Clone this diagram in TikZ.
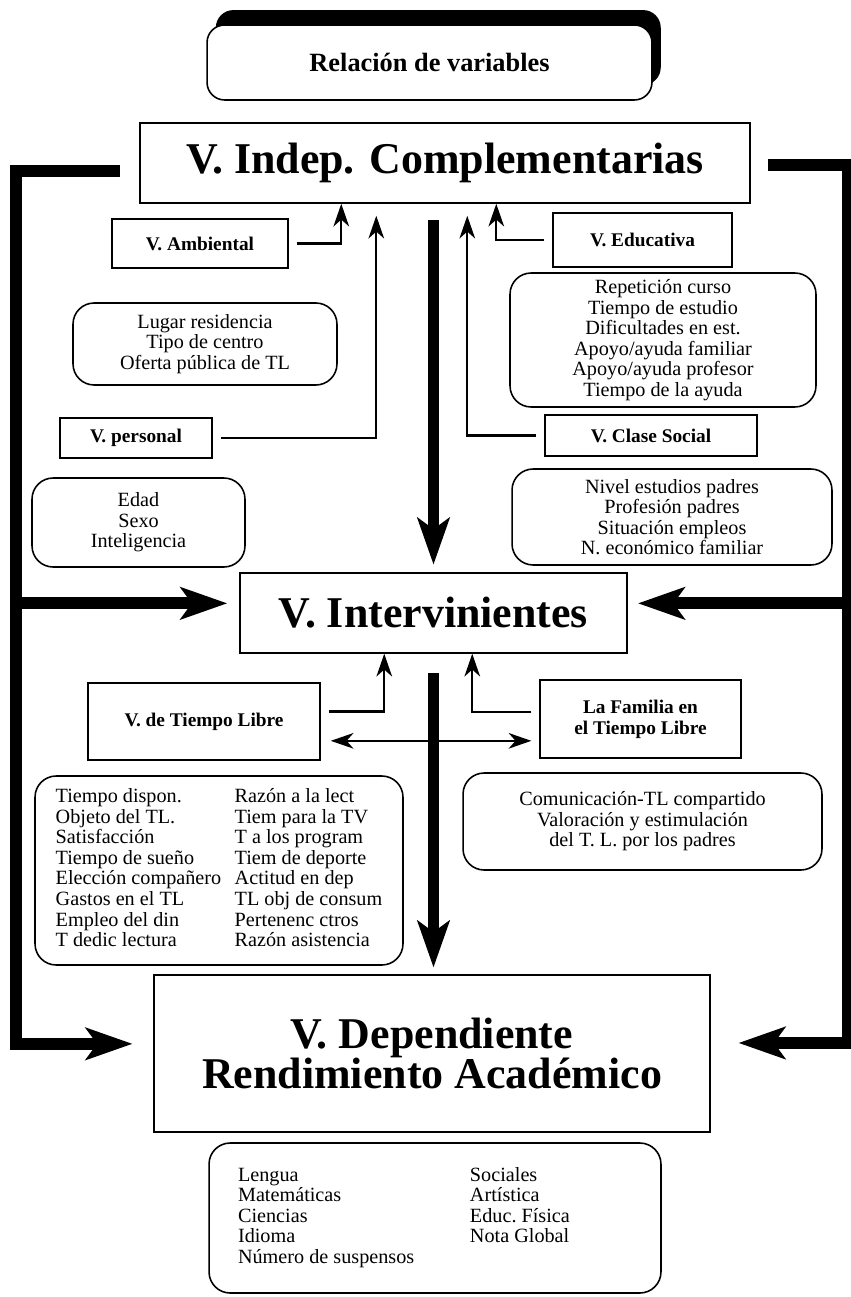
\documentclass[tikz,border=0pt]{standalone}
\usepackage{fontspec}
\setmainfont{Liberation Serif}
\usetikzlibrary{arrows.meta, calc, positioning, shadows}

\begin{document}
\begin{tikzpicture}[x=0.02cm, y=-0.02cm,
    head/.style = {draw, line width=0.9pt, align=center, font=\bfseries\fontsize{25}{23}\selectfont},
    var/.style = {draw, line width=0.9pt, align=center, font=\bfseries\fontsize{11}{12}\selectfont},
    list/.style = {draw, line width=0.9pt, rounded corners=12pt, align=center, font=\fontsize{11.5}{11.7}\selectfont},
    thinarrow/.style = {line width=1.3pt, shorten <=4.5pt, -{Stealth[length=13pt, width=9pt, inset=4pt, line width=0pt]}},
    twoway/.style = {line width=1.3pt, {Stealth[length=13pt, width=9pt, inset=4pt, line width=0pt]}-{Stealth[length=13pt, width=9pt, inset=4pt, line width=0pt]}},
    bigarrow/.style = {line width=6.8pt, -{Stealth[length=27pt, width=19pt, inset=7pt, line width=0pt]}}]
		\useasboundingbox (0,0) rectangle (850,1297);
		\node[draw, line width=0.9pt, rounded corners=10pt, fill=white, minimum width=8.9cm, minimum height=1.5cm,
		      general shadow={fill=black, shadow xshift=5pt, shadow yshift=8.5pt},
		      font=\bfseries\fontsize{15}{17}\selectfont] (title) at (429.5,62.5) {Relación de variables};
		\node[head, minimum width=12.2cm, minimum height=1.6cm] (indep) at (445,163) {V. Indep. Complementarias};
		\node[head, minimum width=7.74cm, minimum height=1.6cm] (interv) at (433.5,613) {V. Intervinientes};
		\node[head, minimum width=11.12cm, minimum height=3.14cm] (dep) at (432,1053.5) {V. Dependiente\\Rendimiento Académico};
		% complementarias
		\node[var, minimum width=3.52cm, minimum height=0.98cm] (amb) at (200,243.5) {V. Ambiental};
		\node[list, minimum width=5.28cm, minimum height=1.64cm] (amblist) at (205,344) {Lugar residencia\\Tipo de centro\\Oferta pública de TL};
		\node[var, minimum width=3.04cm, minimum height=0.8cm] (pers) at (136,438) {V. personal};
		\node[list, minimum width=4.26cm, minimum height=1.78cm] (perslist) at (138.5,522.5) {Edad\\Sexo\\Inteligencia};
		\node[var, minimum width=3.58cm, minimum height=1.08cm] (educ) at (642.5,240) {V. Educativa};
		\node[list, minimum width=6.12cm, minimum height=2.68cm] (educlist) at (663,340) {Repetición curso\\Tiempo de estudio\\Dificultades en est.\\Apoyo/ayuda familiar\\Apoyo/ayuda profesor\\Tiempo de la ayuda};
		\node[var, minimum width=4.24cm, minimum height=0.82cm] (clase) at (651,435.5) {V. Clase Social};
		\node[list, minimum width=6.4cm, minimum height=1.92cm] (claselist) at (672,517) {Nivel estudios padres\\Profesión padres\\Situación empleos\\N. económico familiar};
		% intervinientes
		\node[var, minimum width=4.64cm, minimum height=1.54cm] (tl) at (204,721.5) {V. de Tiempo Libre};
		\node[var, minimum width=4.02cm, minimum height=1.56cm] (fam) at (640.5,719) {La Familia en\\el Tiempo Libre};
		\node[list, minimum width=7.36cm, minimum height=3.78cm] (tllist) at (219,870.5) {%
			\begin{tabular}{@{}p{3.58cm}@{}l@{}}
				Tiempo dispon. & Razón a la lect\\
				Objeto del TL. & Tiem para la TV\\
				Satisfacción & T a los program\\
				Tiempo de sueño & Tiem de deporte\\
				Elección compañero & Actitud en dep\\
				Gastos en el TL & TL obj de consum\\
				Empleo del din & Pertenenc ctros\\
				T dedic lectura & Razón asistencia
			\end{tabular}};
		\node[list, minimum width=7.18cm, minimum height=1.94cm] (famlist) at (642.5,821.5) {Comunicación-TL compartido\\Valoración y estimulación\\del T. L. por los padres};
		\node[list, minimum width=9.04cm, minimum height=3cm] (deplist) at (435,1218) {%
			\begin{tabular}{@{}p{4.64cm}@{}p{3.24cm}@{}}
				Lengua & Sociales\\
				Matemáticas & Artística\\
				Ciencias & Educ.\ Física\\
				Idioma & Nota Global\\
				Número de suspensos &
			\end{tabular}};
		\coordinate (intervl) at ([yshift=5.5pt]interv.west);
		\coordinate (intervr) at ([yshift=5.5pt]interv.east);
		\coordinate (tlr) at ([yshift=-11pt]tl.east);
		% connectors
		\draw[thinarrow] (amb.east) -| ($(indep.south west)+(202,0)$);
		\draw[thinarrow] (pers.east) -| ($(indep.south west)+(237,12)$);
		\draw[thinarrow] (educ.west) -| ($(indep.south west)+(357,0)$);
		\draw[thinarrow] (clase.west) -| ($(indep.south west)+(328,12)$);
		\draw[thinarrow] ([yshift=5.7pt]tl.east) -| ($(interv.south west)+(145,0)$);
		\draw[thinarrow] ([yshift=4pt]fam.west) -| ($(interv.south west)+(233,0)$);
		\draw[twoway, shorten <=5.7pt, shorten >=4.5pt] (tlr) -- (tlr -| fam.west);
		\draw[bigarrow, shorten <=9.5pt, shorten >=4.5pt] (indep.south -| interv.north) -- (interv.north);
		\draw[bigarrow, shorten <=11pt, shorten >=4pt] (interv.south) -- (interv.south |- dep.north);
		\draw[bigarrow, shorten >=12pt] ([xshift=-11pt, yshift=-4.5pt]indep.west) -- ++(-104,0) coordinate (lcorner) |- ([yshift=5.5pt]dep.west);
		\draw[bigarrow, shorten >=7pt] (lcorner |- intervl) -- (intervl);
		\draw[bigarrow, shorten >=16pt] ([xshift=10pt, yshift=-1pt]indep.east) -- ++(80,0) coordinate (rcorner) |- ([yshift=6pt]dep.east);
		\draw[bigarrow, shorten >=6pt] (rcorner |- intervr) -- (intervr);
	\end{tikzpicture}
\end{document}
